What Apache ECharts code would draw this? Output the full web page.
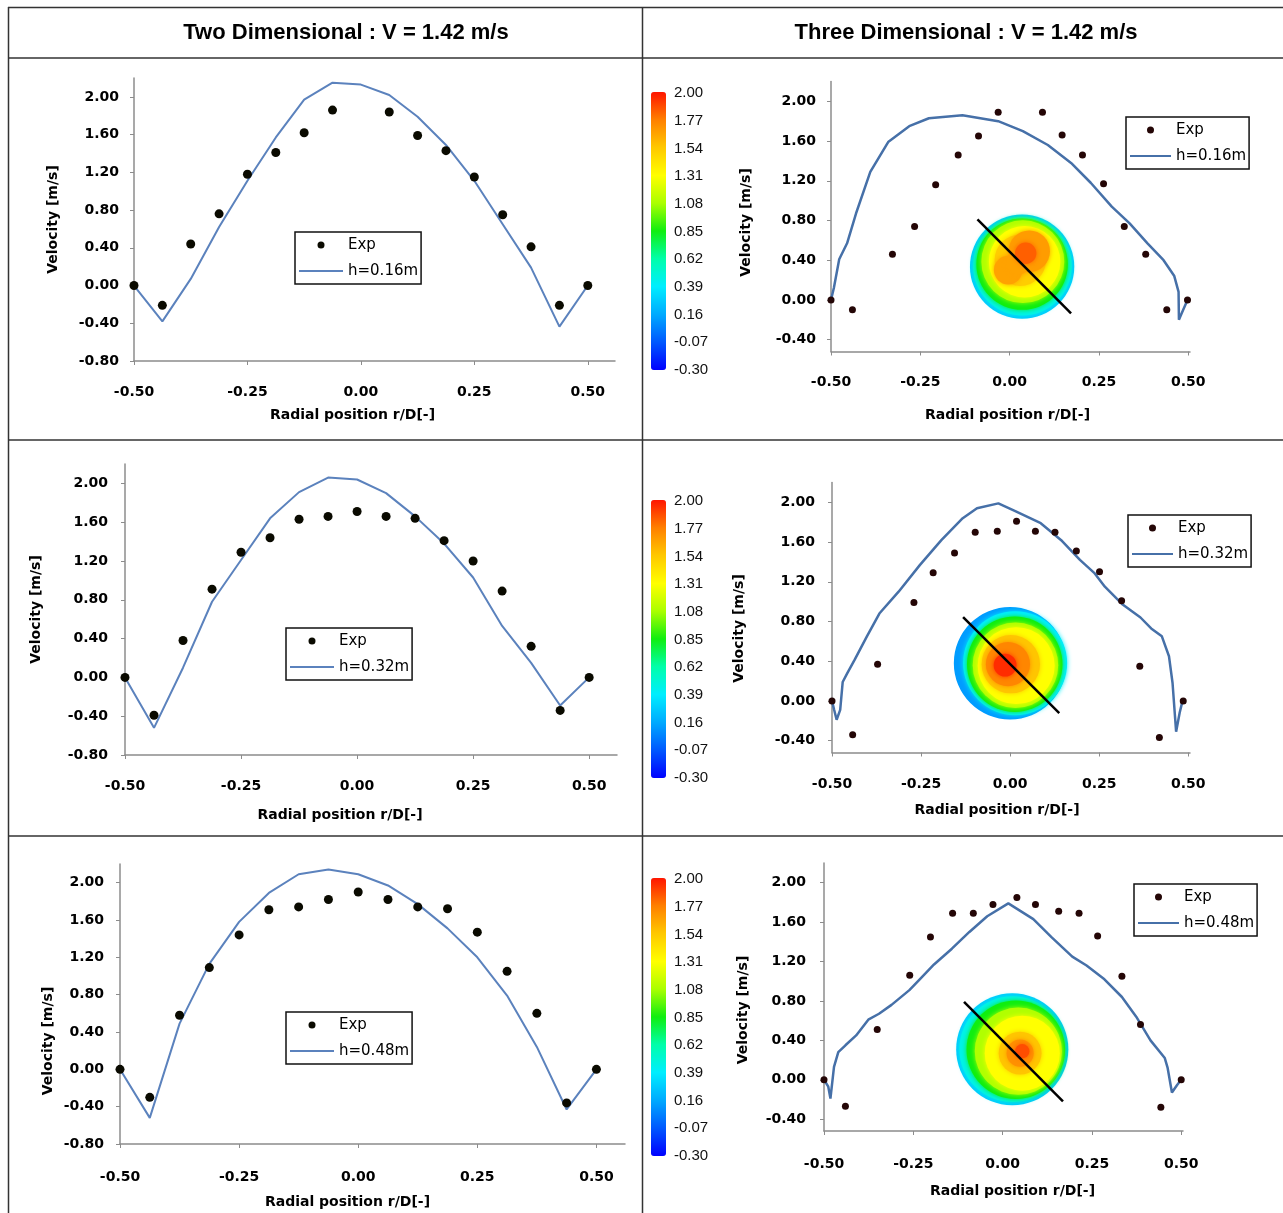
<!DOCTYPE html>
<html><head><meta charset="utf-8">
<script src="https://cdn.jsdelivr.net/npm/echarts@6/dist/echarts.min.js"></script>
<style>html,body{margin:0;padding:0;background:#fff}#c{width:1283px;height:1213px}</style>
</head><body><div id="c"></div><script>
// ---------------- data ----------------
const tickX = [-0.5, -0.25, 0, 0.25, 0.5];
const tickY2D = [-0.8, -0.4, 0, 0.4, 0.8, 1.2, 1.6, 2.0];
const tickY3D = [-0.4, 0, 0.4, 0.8, 1.2, 1.6, 2.0];
const barTicks = [-0.30, -0.07, 0.16, 0.39, 0.62, 0.85, 1.08, 1.31, 1.54, 1.77, 2.00];
const rampColors = ['#0000ff', '#0058ff', '#00aaff', '#00eeff', '#00ffaa', '#10ee10', '#aaff00', '#ffff00', '#ffc800', '#ff8000', '#ff1500'];
const heights = ['h=0.16m', 'h=0.32m', 'h=0.48m'];
const headers = ['Two Dimensional : V = 1.42 m/s', 'Three Dimensional : V = 1.42 m/s'];

// 2D, h=0.16
const exp2D_016_x = [-0.5, -0.4375, -0.375, -0.3125, -0.25, -0.1875, -0.125, -0.0625, 0.0625, 0.125, 0.1875, 0.25, 0.3125, 0.375, 0.4375, 0.5];
const exp2D_016_y = [0, -0.21, 0.44, 0.76, 1.18, 1.41, 1.62, 1.86, 1.84, 1.59, 1.43, 1.15, 0.75, 0.41, -0.21, 0];
const cfd2D_x = [-0.5, -0.4375, -0.375, -0.3125, -0.25, -0.1875, -0.125, -0.0625, 0, 0.0625, 0.125, 0.1875, 0.25, 0.3125, 0.375, 0.4375, 0.5];
const cfd2D_016_y = [0, -0.38, 0.07, 0.62, 1.11, 1.57, 1.97, 2.15, 2.13, 2.02, 1.79, 1.49, 1.11, 0.65, 0.19, -0.435, 0];
// 2D, h=0.32
const exp2D_x = [-0.5, -0.4375, -0.375, -0.3125, -0.25, -0.1875, -0.125, -0.0625, 0, 0.0625, 0.125, 0.1875, 0.25, 0.3125, 0.375, 0.4375, 0.5];
const exp2D_032_y = [0, -0.39, 0.38, 0.91, 1.29, 1.44, 1.63, 1.66, 1.71, 1.66, 1.64, 1.41, 1.20, 0.89, 0.32, -0.34, 0];
const cfd2D_032_y = [0, -0.52, 0.10, 0.78, 1.21, 1.64, 1.91, 2.06, 2.04, 1.90, 1.66, 1.38, 1.03, 0.53, 0.15, -0.29, 0];
// 2D, h=0.48
const exp2D_048_y = [0, -0.30, 0.58, 1.09, 1.44, 1.71, 1.74, 1.82, 1.90, 1.82, 1.74, 1.72, 1.47, 1.05, 0.60, -0.36, 0];
const cfd2D_048_y = [0, -0.52, 0.49, 1.13, 1.58, 1.89, 2.09, 2.14, 2.09, 1.97, 1.77, 1.51, 1.20, 0.79, 0.24, -0.43, 0];

// 3D, h=0.16
const exp3D_016_x = [-0.5, -0.44, -0.328, -0.266, -0.207, -0.144, -0.087, -0.032, 0.092, 0.147, 0.204, 0.263, 0.321, 0.381, 0.44, 0.498];
const exp3D_016_y = [0, -0.10, 0.46, 0.74, 1.16, 1.46, 1.65, 1.89, 1.89, 1.66, 1.46, 1.17, 0.74, 0.46, -0.10, 0];
const cfd3D_016_x = [-0.5, -0.492, -0.477, -0.455, -0.43, -0.39, -0.34, -0.281, -0.226, -0.132, -0.032, 0.037, 0.107, 0.172, 0.227, 0.286, 0.336, 0.386, 0.431, 0.461, 0.473, 0.474, 0.486, 0.498];
const cfd3D_016_y = [0, 0.12, 0.41, 0.57, 0.87, 1.29, 1.59, 1.75, 1.83, 1.86, 1.80, 1.70, 1.56, 1.38, 1.18, 0.94, 0.77, 0.57, 0.40, 0.24, 0.08, -0.20, -0.10, 0];
// 3D, h=0.32
const exp3D_032_x = [-0.5, -0.442, -0.372, -0.27, -0.216, -0.156, -0.098, -0.036, 0.018, 0.071, 0.126, 0.186, 0.251, 0.313, 0.364, 0.419, 0.486];
const exp3D_032_y = [0, -0.34, 0.37, 0.99, 1.29, 1.49, 1.70, 1.71, 1.81, 1.71, 1.70, 1.51, 1.30, 1.01, 0.35, -0.37, 0];
const cfd3D_032_x = [-0.5, -0.494, -0.487, -0.477, -0.47, -0.457, -0.437, -0.402, -0.367, -0.313, -0.253, -0.193, -0.133, -0.093, -0.033, 0.016, 0.086, 0.146, 0.196, 0.236, 0.266, 0.316, 0.366, 0.396, 0.426, 0.446, 0.456, 0.466, 0.476, 0.484];
const cfd3D_032_y = [0, -0.09, -0.19, -0.09, 0.19, 0.28, 0.41, 0.65, 0.88, 1.10, 1.37, 1.62, 1.84, 1.94, 1.99, 1.91, 1.79, 1.61, 1.42, 1.29, 1.15, 0.97, 0.84, 0.73, 0.65, 0.45, 0.18, -0.31, -0.12, 0];
// 3D, h=0.48
const exp3D_048_x = [-0.5, -0.44, -0.351, -0.26, -0.202, -0.14, -0.082, -0.027, 0.04, 0.092, 0.157, 0.214, 0.266, 0.334, 0.386, 0.443, 0.5];
const exp3D_048_y = [0, -0.27, 0.51, 1.06, 1.45, 1.69, 1.69, 1.78, 1.85, 1.78, 1.71, 1.69, 1.46, 1.05, 0.56, -0.28, 0];
const cfd3D_048_x = [-0.5, -0.488, -0.482, -0.472, -0.46, -0.44, -0.41, -0.376, -0.346, -0.311, -0.261, -0.232, -0.192, -0.142, -0.093, -0.043, 0.016, 0.086, 0.136, 0.195, 0.235, 0.285, 0.334, 0.374, 0.414, 0.454, 0.462, 0.474, 0.489, 0.5];
const cfd3D_048_y = [0, -0.07, -0.19, 0.13, 0.28, 0.35, 0.45, 0.61, 0.67, 0.76, 0.91, 1.02, 1.17, 1.33, 1.50, 1.66, 1.79, 1.63, 1.45, 1.25, 1.16, 1.02, 0.84, 0.64, 0.40, 0.22, 0.12, -0.13, -0.05, 0];

// Inset cross-section contours: [x, y, radius (r/D units), velocity]
const diskTop = [
  [0.035, 0.335, 0.146, 0.26], [0.036, 0.340, 0.138, 0.45], [0.035, 0.360, 0.128, 0.85],
  [0.037, 0.385, 0.116, 1.10], [0.042, 0.385, 0.100, 1.31], [0.030, 0.400, 0.072, 1.52],
  [0.055, 0.490, 0.058, 1.68], [-0.004, 0.300, 0.040, 1.66], [0.025, 0.380, 0.034, 1.66],
  [0.045, 0.470, 0.030, 1.84]
];
const diskMid = [
  [0.000, 0.380, 0.158, 0.12], [0.014, 0.380, 0.146, 0.39], [0.013, 0.370, 0.134, 0.85],
  [0.015, 0.360, 0.120, 1.10], [0.017, 0.355, 0.108, 1.31], [0.002, 0.370, 0.082, 1.55],
  [-0.006, 0.370, 0.062, 1.75], [-0.014, 0.360, 0.032, 1.95]
];
const diskBot = [
  [0.027, 0.310, 0.157, 0.26], [0.027, 0.310, 0.148, 0.45], [0.037, 0.305, 0.138, 0.85],
  [0.044, 0.290, 0.122, 1.10], [0.055, 0.270, 0.105, 1.31], [0.049, 0.270, 0.060, 1.55],
  [0.049, 0.270, 0.038, 1.72], [0.055, 0.290, 0.020, 1.88]
];
const cutTop = [[-0.09, 0.81], [0.172, -0.137]];
const cutMid = [[-0.132, 0.844], [0.138, -0.124]];
const cutBot = [[-0.108, 0.79], [0.169, -0.22]];

// ---------------- layout ----------------
const zip = (xs, ys) => xs.map((x, i) => [x, ys[i]]);
const panels = [
  { dim: '2D', h: 0, ex: exp2D_016_x, ey: exp2D_016_y, lx: cfd2D_x, ly: cfd2D_016_y },
  { dim: '3D', h: 0, ex: exp3D_016_x, ey: exp3D_016_y, lx: cfd3D_016_x, ly: cfd3D_016_y, disk: diskTop, cut: cutTop },
  { dim: '2D', h: 1, ex: exp2D_x, ey: exp2D_032_y, lx: cfd2D_x, ly: cfd2D_032_y },
  { dim: '3D', h: 1, ex: exp3D_032_x, ey: exp3D_032_y, lx: cfd3D_032_x, ly: cfd3D_032_y, disk: diskMid, cut: cutMid },
  { dim: '2D', h: 2, ex: exp2D_x, ey: exp2D_048_y, lx: cfd2D_x, ly: cfd2D_048_y },
  { dim: '3D', h: 2, ex: exp3D_048_x, ey: exp3D_048_y, lx: cfd3D_048_x, ly: cfd3D_048_y, disk: diskBot, cut: cutBot }
];
const layout = [
  { grid: { left: 134, top: 78, width: 481, height: 283 }, xMax: 0.56, yMin: -0.8, xGap: 47, xPad: [0, 44, 0, 0], yGap: 74, yPad: [0, 0, 0, 0], xm: 24, ym: 15, lg: { left: 295, top: 232 } },
  { grid: { left: 831, top: 81.5, width: 359, height: 270 }, xMax: 0.505, yMin: -0.52, xGap: 57, xPad: [0, 6, 0, 0], yGap: 78, yPad: [0, 12, 0, 0], xm: 24, ym: 15, lg: { left: 1126, top: 117 } },
  { grid: { left: 125, top: 464, width: 492, height: 291 }, xMax: 0.56, yMin: -0.8, xGap: 53, xPad: [0, 62, 0, 0], yGap: 82, yPad: [0, 0, 0, 0], xm: 24, ym: 17, lg: { left: 286, top: 628 } },
  { grid: { left: 832, top: 482.5, width: 358, height: 270 }, xMax: 0.505, yMin: -0.52, xGap: 51, xPad: [0, 28, 0, 0], yGap: 86, yPad: [0, 22, 0, 0], xm: 25, ym: 17, lg: { left: 1128, top: 515 } },
  { grid: { left: 120, top: 864, width: 505, height: 280 }, xMax: 0.56, yMin: -0.8, xGap: 51, xPad: [0, 50, 0, 0], yGap: 65, yPad: [0, 74, 0, 0], xm: 26, ym: 16, lg: { left: 286, top: 1012 } },
  { grid: { left: 824, top: 863, width: 359, height: 268 }, xMax: 0.505, yMin: -0.52, xGap: 53, xPad: [0, 0, 0, 18], yGap: 74, yPad: [0, 26, 0, 0], xm: 26, ym: 18, lg: { left: 1134, top: 884 } }
];
const bars = [{ top: 92, labTop: 93 }, { top: 500, labTop: 501 }, { top: 878, labTop: 879 }];

const boldFont = { fontFamily: 'DejaVu Sans', fontWeight: 'bold', fontSize: 14, color: '#000' };
const axisGrey = '#8c8c8c';
const fmt = v => v.toFixed(2);

const grids = [], xAxis = [], yAxis = [], series = [], legend = [], visualMap = [];
const diskSeriesIdx = [];

panels.forEach((p, i) => {
  const L = layout[i];
  const is3D = p.dim === '3D';
  grids.push(Object.assign({}, L.grid));
  xAxis.push({
    gridIndex: i, type: 'value', min: -0.5, max: L.xMax,
    name: 'Radial position r/D[-]', nameLocation: 'middle', nameGap: L.xGap,
    nameTextStyle: Object.assign({}, boldFont, { padding: L.xPad }),
    axisLine: { onZero: false, lineStyle: { color: axisGrey, width: 1.5 } },
    axisTick: { show: true, customValues: tickX, length: 4, lineStyle: { color: axisGrey, width: 1 } },
    axisLabel: Object.assign({ customValues: tickX, formatter: fmt, margin: L.xm }, boldFont),
    splitLine: { show: false }
  });
  const yt = is3D ? tickY3D : tickY2D;
  yAxis.push({
    gridIndex: i, type: 'value', min: L.yMin, max: 2.2,
    name: 'Velocity [m/s]', nameLocation: 'middle', nameGap: L.yGap,
    nameTextStyle: Object.assign({}, boldFont, { padding: L.yPad }),
    axisLine: { show: true, onZero: false, lineStyle: { color: axisGrey, width: 1.5 } },
    axisTick: { show: true, customValues: yt, length: 4, lineStyle: { color: axisGrey, width: 1 } },
    axisLabel: Object.assign({ customValues: yt, formatter: fmt, margin: L.ym }, boldFont),
    splitLine: { show: false }
  });
  if (is3D) {
    diskSeriesIdx[p.h] = series.length;
    series.push({
      type: 'custom', xAxisIndex: i, yAxisIndex: i, silent: true, z: 1,
      encode: { x: 0, y: 1 }, data: p.disk,
      renderItem: (params, api) => {
        const c = api.coord([api.value(0), api.value(1)]);
        const r = api.size([api.value(2), 0])[0];
        const col = api.visual('color');
        const blur = params.dataIndex === 0 ? 0 : 5;
        return { type: 'circle', shape: { cx: c[0], cy: c[1], r: r },
          style: { fill: col, shadowBlur: blur, shadowColor: col } };
      }
    });
    series.push({
      type: 'line', name: 'cut' + i, xAxisIndex: i, yAxisIndex: i, data: p.cut, symbol: 'none', silent: true, z: 3,
      lineStyle: { color: '#000', width: 2.5 }, itemStyle: { color: '#000' }
    });
  }
  const lineName = heights[p.h] + '#' + i;
  const expName = 'Exp#' + i;
  series.push({
    type: 'line', name: lineName, xAxisIndex: i, yAxisIndex: i, data: zip(p.lx, p.ly),
    symbol: 'none', z: 4,
    lineStyle: { color: is3D ? '#4670a8' : '#5b82bd', width: is3D ? 2.5 : 2 },
    itemStyle: { color: is3D ? '#4670a8' : '#5b82bd' }
  });
  series.push({
    type: 'scatter', name: expName, xAxisIndex: i, yAxisIndex: i, data: zip(p.ex, p.ey),
    symbol: 'circle', symbolSize: is3D ? 7 : 9, z: 5,
    itemStyle: { color: is3D ? '#240606' : '#0a0a00', opacity: 1 }
  });
  legend.push({
    left: L.lg.left, top: L.lg.top, orient: 'vertical', selectedMode: false,
    backgroundColor: '#fff', borderColor: '#111', borderWidth: 1.5, borderRadius: 0,
    padding: [4, 3, 4, 3], itemGap: 8, itemWidth: is3D ? 41 : 44, itemHeight: 7,
    formatter: n => n.split('#')[0],
    textStyle: { fontFamily: 'DejaVu Sans', fontSize: 15, color: '#000', lineHeight: 18 },
    data: [{ name: expName }, { name: lineName, itemStyle: { opacity: 0 } }]
  });
});

// colour-bar label axes
bars.forEach((b, k) => {
  const gi = grids.length;
  grids.push({ left: 651, top: b.labTop, width: 15, height: 277 });
  xAxis.push({ gridIndex: gi, type: 'value', min: 0, max: 1, show: false });
  yAxis.push({
    gridIndex: gi, type: 'value', min: -0.3, max: 2.0, position: 'right',
    axisLine: { show: false }, axisTick: { show: false }, splitLine: { show: false },
    axisLabel: { customValues: barTicks, formatter: fmt, margin: 8, fontFamily: 'Liberation Sans', fontSize: 15, color: '#111' }
  });
  visualMap.push({
    type: 'continuous', min: -0.3, max: 2.0, dimension: 3, seriesIndex: diskSeriesIdx[k],
    inRange: { color: rampColors }, calculable: false, hoverLink: false,
    itemWidth: 15, itemHeight: 278, left: 651, top: b.top, padding: 0
  });
});

const frame = '#333';
const headFont = 'bold 22px "Liberation Sans"';
const graphic = [
  { type: 'line', shape: { x1: 8, y1: 7.5, x2: 1283, y2: 7.5 }, style: { stroke: frame, lineWidth: 1.5 } },
  { type: 'line', shape: { x1: 8, y1: 58, x2: 1283, y2: 58 }, style: { stroke: frame, lineWidth: 1.5 } },
  { type: 'line', shape: { x1: 8, y1: 440, x2: 1283, y2: 440 }, style: { stroke: frame, lineWidth: 1.5 } },
  { type: 'line', shape: { x1: 8, y1: 836, x2: 1283, y2: 836 }, style: { stroke: frame, lineWidth: 1.5 } },
  { type: 'line', shape: { x1: 8.5, y1: 7, x2: 8.5, y2: 1213 }, style: { stroke: frame, lineWidth: 1.5 } },
  { type: 'line', shape: { x1: 642.5, y1: 7, x2: 642.5, y2: 1213 }, style: { stroke: frame, lineWidth: 1.5 } },
  { type: 'text', x: 346, y: 33, style: { text: headers[0], font: headFont, fill: '#000', align: 'center', verticalAlign: 'middle', textAlign: 'center', textVerticalAlign: 'middle' } },
  { type: 'text', x: 966, y: 33, style: { text: headers[1], font: headFont, fill: '#000', align: 'center', verticalAlign: 'middle', textAlign: 'center', textVerticalAlign: 'middle' } }
];

const chart = echarts.init(document.getElementById('c'), null, { renderer: 'canvas' });
chart.setOption({
  backgroundColor: '#fff', animation: false,
  grid: grids, xAxis: xAxis, yAxis: yAxis, series: series,
  legend: legend, visualMap: visualMap, graphic: graphic
});
</script></body></html>
